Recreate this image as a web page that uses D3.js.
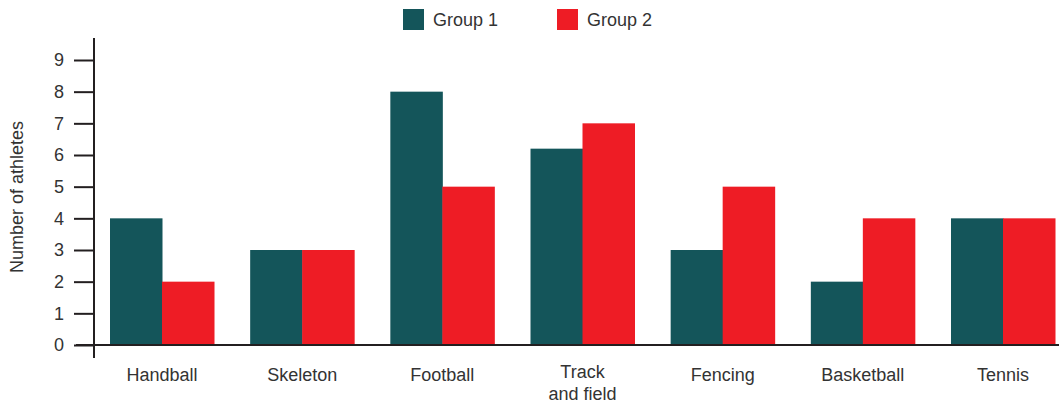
<!DOCTYPE html>
<html>
<head>
<meta charset="utf-8">
<script src="https://cdn.jsdelivr.net/npm/d3@7"></script>
<style>
  html, body { margin: 0; padding: 0; background: #fff; }
  svg text { font-family: "Liberation Sans", Arial, Helvetica, sans-serif; fill: #333; }
</style>
</head>
<body>
<svg id="chart" width="1059" height="405"></svg>
<script>
// Number of athletes per sport, for two groups
const categories = ["Handball", "Skeleton", "Football", "Track\nand field", "Fencing", "Basketball", "Tennis"];
const group1 = [4, 3, 8, 6.2, 3, 2, 4];
const group2 = [2, 3, 5, 7, 5, 4, 4];
const seriesNames = ["Group 1", "Group 2"];
const yTicks = [0, 1, 2, 3, 4, 5, 6, 7, 8, 9];

const colors = ["#14555a", "#ee1c25"];
const axisColor = "#231f20";
const fontSize = 18;

const svg = d3.select("#chart");

const x0 = d3.scaleBand().domain(categories).range([110, 1055]).paddingInner(0.258).paddingOuter(0);
const x1 = d3.scaleBand().domain(seriesNames).range([0, x0.bandwidth()]).padding(0);
const y = d3.scaleLinear().domain([0, 9]).range([345, 60]);

const rows = categories.map((c, i) => ({ cat: c, values: [group1[i], group2[i]] }));

// Bars
const g = svg.append("g");
g.selectAll("g.cat")
  .data(rows)
  .join("g")
  .attr("class", "cat")
  .attr("transform", d => `translate(${x0(d.cat)},0)`)
  .selectAll("rect")
  .data(d => d.values.map((v, k) => ({ name: seriesNames[k], v, k })))
  .join("rect")
  .attr("x", d => x1(d.name))
  .attr("width", x1.bandwidth() + 0.5)
  .attr("y", d => y(d.v))
  .attr("height", d => y(0) - y(d.v))
  .attr("fill", d => colors[d.k]);

// Y axis
const yAxis = d3.axisLeft(y).tickValues(yTicks).tickSize(20).tickPadding(10).tickFormat(d3.format("d"));
const ya = svg.append("g").attr("transform", "translate(94,0)").call(yAxis);
ya.select(".domain").remove();
ya.selectAll(".tick line").attr("stroke", axisColor).attr("stroke-width", 2);
ya.selectAll(".tick text").attr("font-size", fontSize).attr("fill", "#333")
  .style("font-family", '"Liberation Sans", Arial, sans-serif');
ya.append("line")
  .attr("x1", 0).attr("x2", 0)
  .attr("y1", 38).attr("y2", 358)
  .attr("stroke", axisColor).attr("stroke-width", 2);

// Baseline
svg.append("line")
  .attr("x1", 76).attr("x2", 1059)
  .attr("y1", y(0)).attr("y2", y(0))
  .attr("stroke", axisColor).attr("stroke-width", 2);

// Category labels (multi-line labels start a little higher)
const labels = svg.append("g");
categories.forEach(c => {
  const lines = c.split("\n");
  const cx = x0(c) + x0.bandwidth() / 2;
  const t = labels.append("text")
    .attr("x", cx)
    .attr("y", lines.length > 1 ? 378 : 381)
    .attr("text-anchor", "middle")
    .attr("font-size", fontSize);
  lines.forEach((line, i) => {
    t.append("tspan").attr("x", cx).attr("dy", i === 0 ? 0 : 21.5).text(line);
  });
});

// Y axis title
svg.append("text")
  .attr("transform", "translate(23,197) rotate(-90)")
  .attr("text-anchor", "middle")
  .attr("font-size", fontSize)
  .text("Number of athletes");

// Legend
const legendX = [403, 557];
seriesNames.forEach((n, i) => {
  svg.append("rect").attr("x", legendX[i]).attr("y", 9).attr("width", 21).attr("height", 21).attr("fill", colors[i]);
  svg.append("text").attr("x", legendX[i] + 30).attr("y", 26).attr("font-size", fontSize).text(n);
});
</script>
</body>
</html>
